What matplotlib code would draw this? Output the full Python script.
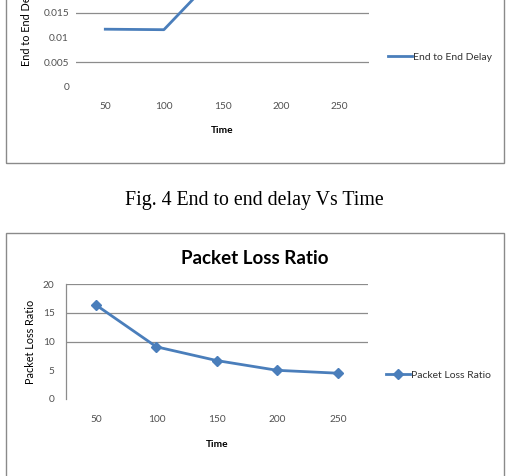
import matplotlib
matplotlib.use("Agg")
import matplotlib.pyplot as plt
from matplotlib.patches import Rectangle

# ---- data ----
time_labels = ["50", "100", "150", "200", "250"]
delay_values = [0.0117, 0.0116, 0.0240, 0.0260, 0.0270]
delay_ticks = [0, 0.005, 0.01, 0.015]
delay_tick_labels = ["0", "0.005", "0.01", "0.015"]
loss_values = [16.4, 9.1, 6.7, 5.0, 4.5]
loss_ticks = [0, 5, 10, 15, 20]
loss_tick_labels = ["0", "5", "10", "15", "20"]

W, H = 513, 476
fig = plt.figure(figsize=(W / 100, H / 100), dpi=100)
fig.patch.set_facecolor("white")

FONT = "Lato"
BLUE = "#4A7EBB"
GRID = "#8C8C8C"
TICKC = "#505050"

def fx(px):
    return px / W

def fy(py):
    return (H - py) / H

# ---- boxes ----
fig.patches.append(Rectangle((fx(5.5), fy(163)), fx(498.5), fy(-40) - fy(163),
                             transform=fig.transFigure, fill=False,
                             edgecolor="#8A8A8A", lw=1.0, clip_on=False))
fig.patches.append(Rectangle((fx(5.5), fy(520)), fx(498.5), fy(233) - fy(520),
                             transform=fig.transFigure, fill=False,
                             edgecolor="#8A8A8A", lw=1.0, clip_on=False))

# ---- top chart (End to End Delay) ----
px_per_unit = 24.7 / 0.005
top_ymax = 0.03
ax1_h = top_ymax * px_per_unit
ax1 = fig.add_axes([fx(76), fy(87), fx(369) - fx(76), ax1_h / H])
x = list(range(len(time_labels)))
ax1.plot(x, delay_values, color=BLUE, lw=2.0, label="End to End Delay")
ax1.set_xlim(-0.5, len(time_labels) - 0.5)
ax1.set_ylim(0, top_ymax)
for v in [0.005, 0.015, 0.02, 0.025, 0.03]:
    ax1.axhline(v, color=GRID, lw=0.9, zorder=0)
ax1.set_yticks(delay_ticks)
ax1.set_yticklabels(delay_tick_labels)
ax1.set_xticks(x)
ax1.set_xticklabels(time_labels)
for s in ax1.spines.values():
    s.set_visible(False)
ax1.tick_params(length=0, labelsize=7.3, colors=TICKC, pad=5)
ax1.tick_params(axis="x", pad=11)
for lab in ax1.get_xticklabels() + ax1.get_yticklabels():
    lab.set_fontfamily(FONT)
ax1.set_xlabel("Time", fontfamily=FONT, fontweight="bold", fontsize=7.3, labelpad=10.5)
ax1.set_ylabel("End to End Delay", fontfamily=FONT, fontsize=7.8)
ax1.yaxis.set_label_coords(-0.15, (87 - 24) / ax1_h)
ax1.legend(loc="center left", bbox_to_anchor=(fx(379), fy(57)),
           bbox_transform=fig.transFigure, frameon=False, handlelength=2.3,
           handletextpad=0.1, prop={"family": FONT, "size": 7.5},
           labelcolor="#333333")

# ---- caption ----
fig.text(fx(254), fy(201), "Fig. 4 End to end delay Vs Time",
         fontfamily="Liberation Serif", fontsize=14.3, ha="center", va="center")

# ---- bottom chart (Packet Loss Ratio) ----
ax2 = fig.add_axes([fx(65.7), fy(399), fx(368) - fx(65.7), (399 - 284.3) / H])
ax2.plot(x, loss_values, color=BLUE, lw=2.0, marker="D", markersize=5,
         label="Packet Loss Ratio")
ax2.set_xlim(-0.5, len(time_labels) - 0.5)
ax2.set_ylim(0, 20)
for v in [10, 15, 20]:
    ax2.axhline(v, color=GRID, lw=0.9, zorder=0)
ax2.set_yticks(loss_ticks)
ax2.set_yticklabels(loss_tick_labels)
ax2.set_xticks(x)
ax2.set_xticklabels(time_labels)
for k, s in ax2.spines.items():
    s.set_visible(k == "left")
ax2.spines["left"].set_color(GRID)
ax2.spines["left"].set_linewidth(0.9)
ax2.tick_params(length=0, labelsize=7.3, colors=TICKC, pad=8)
ax2.tick_params(axis="x", pad=11.5)
for lab in ax2.get_xticklabels() + ax2.get_yticklabels():
    lab.set_fontfamily(FONT)
ax2.set_xlabel("Time", fontfamily=FONT, fontweight="bold", fontsize=7.3, labelpad=11.5)
ax2.set_ylabel("Packet Loss Ratio", fontfamily=FONT, fontsize=7.8, labelpad=5)
fig.text(fx(255), fy(258), "Packet Loss Ratio", fontfamily=FONT,
         fontweight="bold", fontsize=13.5, ha="center", va="center")
ax2.legend(loc="center left", bbox_to_anchor=(fx(377), fy(375)),
           bbox_transform=fig.transFigure, frameon=False, handlelength=2.3,
           handletextpad=0.1, prop={"family": FONT, "size": 7.5},
           labelcolor="#333333")

fig.savefig("out.png", dpi=100)
